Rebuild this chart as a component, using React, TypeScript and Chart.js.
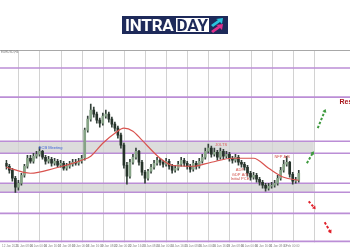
import React, { useEffect, useRef } from "react";
import { Chart, registerables } from "chart.js";
Chart.register(...registerables);

const opens = [
  1.0935, 1.092, 1.09, 1.086, 1.0815, 1.0835, 1.0875, 1.092, 1.096, 1.0945,
  1.097, 1.098, 1.0995, 1.0965, 1.0945, 1.0955, 1.0935, 1.0945, 1.0925, 1.0935,
  1.091, 1.092, 1.093, 1.094, 1.0935, 1.0945, 1.096, 1.11, 1.1155, 1.12,
  1.118, 1.115, 1.1135, 1.117, 1.118, 1.1155, 1.113, 1.111, 1.1075, 1.1025,
  1.0925, 1.087, 1.094, 1.0965, 1.0995, 1.094, 1.089, 1.086, 1.0895, 1.0915,
  1.0935, 1.095, 1.094, 1.093, 1.0945, 1.092, 1.09, 1.091, 1.093, 1.095,
  1.0935, 1.092, 1.0905, 1.0935, 1.092, 1.0945, 1.0965, 1.0995, 1.101, 1.098,
  1.099, 1.0965, 1.0995, 1.097, 1.098, 1.096, 1.095, 1.0965, 1.094, 1.093,
  1.0915, 1.0885, 1.0865, 1.0875, 1.0855, 1.084, 1.0825, 1.081, 1.082, 1.0825,
  1.0835, 1.086, 1.09, 1.093, 1.094, 1.088, 1.0845, 1.085,
];
const closes = [
  1.092, 1.09, 1.086, 1.0815, 1.0835, 1.0875, 1.092, 1.096, 1.0945, 1.097,
  1.098, 1.0995, 1.0965, 1.0945, 1.0955, 1.0935, 1.0945, 1.0925, 1.0935, 1.091,
  1.092, 1.093, 1.094, 1.0935, 1.0945, 1.096, 1.11, 1.1155, 1.12, 1.118,
  1.115, 1.1135, 1.117, 1.118, 1.1155, 1.113, 1.111, 1.1075, 1.1025, 1.0925,
  1.087, 1.094, 1.0965, 1.0995, 1.094, 1.089, 1.086, 1.0895, 1.0915, 1.0935,
  1.095, 1.094, 1.093, 1.0945, 1.092, 1.09, 1.091, 1.093, 1.095, 1.0935,
  1.092, 1.0905, 1.0935, 1.092, 1.0945, 1.0965, 1.0995, 1.101, 1.098, 1.099,
  1.0965, 1.0995, 1.097, 1.098, 1.096, 1.095, 1.0965, 1.094, 1.093, 1.0915,
  1.0885, 1.0865, 1.0875, 1.0855, 1.084, 1.0825, 1.081, 1.082, 1.0825, 1.0835,
  1.086, 1.09, 1.093, 1.094, 1.088, 1.0845, 1.085, 1.0885,
];
const highs = [
  1.095, 1.093, 1.091, 1.087, 1.085, 1.0885, 1.093, 1.0975, 1.0975, 1.0985,
  1.0995, 1.1015, 1.1, 1.0975, 1.097, 1.0965, 1.096, 1.0955, 1.095, 1.0945,
  1.0935, 1.0945, 1.0955, 1.0955, 1.096, 1.0975, 1.111, 1.117, 1.123, 1.1215,
  1.119, 1.116, 1.1185, 1.12, 1.119, 1.1165, 1.114, 1.112, 1.1085, 1.1035,
  1.094, 1.0955, 1.098, 1.101, 1.1, 1.095, 1.09, 1.0905, 1.093, 1.095,
  1.0965, 1.096, 1.095, 1.096, 1.0955, 1.093, 1.0925, 1.0945, 1.0965, 1.096,
  1.0945, 1.093, 1.095, 1.0945, 1.096, 1.098, 1.101, 1.103, 1.102, 1.101,
  1.1, 1.101, 1.1005, 1.0995, 1.099, 1.097, 1.098, 1.0975, 1.095, 1.094,
  1.0925, 1.0895, 1.089, 1.0885, 1.0865, 1.085, 1.0835, 1.0835, 1.084, 1.085,
  1.0875, 1.0915, 1.095, 1.097, 1.0945, 1.089, 1.0865, 1.09,
];
const lows = [
  1.0905, 1.0885, 1.0845, 1.079, 1.08, 1.0825, 1.0865, 1.091, 1.0935, 1.0935,
  1.096, 1.097, 1.0955, 1.093, 1.0935, 1.092, 1.0925, 1.0915, 1.0915, 1.09,
  1.09, 1.091, 1.092, 1.0925, 1.0925, 1.0935, 1.095, 1.109, 1.1145, 1.1165,
  1.1135, 1.1115, 1.1125, 1.116, 1.114, 1.1115, 1.1095, 1.106, 1.101, 1.091,
  1.083, 1.086, 1.093, 1.0955, 1.0925, 1.0875, 1.0835, 1.085, 1.0885, 1.0905,
  1.0925, 1.0925, 1.0915, 1.092, 1.0905, 1.0885, 1.089, 1.09, 1.092, 1.092,
  1.0905, 1.089, 1.0895, 1.0905, 1.091, 1.0935, 1.0955, 1.0985, 1.0965, 1.097,
  1.095, 1.0955, 1.0955, 1.096, 1.0945, 1.0935, 1.094, 1.0925, 1.0915, 1.09,
  1.087, 1.085, 1.0855, 1.084, 1.0825, 1.081, 1.0795, 1.08, 1.081, 1.0815,
  1.0825, 1.085, 1.089, 1.092, 1.0865, 1.083, 1.0835, 1.084,
];

const maIndex = [0, 8, 16, 25, 28, 32, 36, 39, 42, 45, 51, 55, 62, 68, 75, 82, 87, 92, 97];
const maValues = [
  1.0915, 1.0885, 1.091, 1.095, 1.097, 1.1035, 1.1085, 1.111, 1.1095, 1.105,
  1.096, 1.0925, 1.092, 1.094, 1.096, 1.096, 1.091, 1.0865, 1.085,
];

const levels = [1.141, 1.1265, 1.1045, 1.0985, 1.0835, 1.079, 1.0685, 1.0545];
const bandLows = [1.0985, 1.079];
const bandHighs = [1.1045, 1.0835];
const bandEndIndex = 102;

const gridIndex = [4, 11, 18, 25, 32, 39, 46, 53, 60, 67, 74, 81, 88, 95, 102];
const labelIndex = [1.3, 6, 10.6, 15.3, 20, 24.6, 29.3, 34, 38.6, 43.3, 48, 52.6, 57.3, 62, 66.6, 71.3, 76, 80.6, 85.3, 90, 94.6];
const dateLabels = [
  "12 Jan 2024", "15 Jan 08:00", "16 Jan 00:00", "16 Jan 16:00", "17 Jan 08:00",
  "18 Jan 00:00", "18 Jan 16:00", "19 Jan 08:00", "22 Jan 00:00", "22 Jan 16:00",
  "23 Jan 08:00", "24 Jan 00:00", "24 Jan 16:00", "25 Jan 08:00", "26 Jan 00:00",
  "26 Jan 16:00", "29 Jan 08:00", "30 Jan 00:00", "30 Jan 16:00", "31 Jan 08:00",
  "1 Feb 00:00",
];

const noteTexts = ["ECB Meeting", "JOLTS", "ADP", "GDP A/S", "Initial PCE", "NFP A/S", "Resistance"];
const noteIndex = [14.7, 71.2, 77.5, 77.5, 77.5, 91.5, 110.5];
const notePrice = [1.1005, 1.102, 1.0895, 1.0872, 1.085, 1.096, 1.123];
const noteColors = ["#3d63d8", "#d85a5a", "#d0504a", "#d0504a", "#d0504a", "#d0504a", "#a8161c"];

const arrowFromIndex = [99.7, 103.3, 100.3, 105.6];
const arrowFromPrice = [1.0935, 1.111, 1.0745, 1.064];
const arrowToIndex = [102, 105.9, 102.6, 107.8];
const arrowToPrice = [1.0995, 1.1205, 1.0705, 1.0585];
const arrowColors = ["#3e9a3e", "#3e9a3e", "#e0202a", "#e0202a"];

const overlayPlugin = {
  id: "overlay",
  beforeDatasetsDraw(chart: any) {
    const { ctx, chartArea, scales } = chart;
    const xs = scales.x;
    const ys = scales.y;
    ctx.save();
    ctx.fillStyle = "#dcdcdc";
    const xEnd = xs.getPixelForValue(bandEndIndex);
    for (let k = 0; k < bandLows.length; k++) {
      const yTop = ys.getPixelForValue(bandHighs[k]);
      const yBot = ys.getPixelForValue(bandLows[k]);
      ctx.fillRect(0, yTop, xEnd, yBot - yTop);
    }
    ctx.strokeStyle = "#d2d2d2";
    ctx.lineWidth = 1;
    for (const g of gridIndex) {
      const x = Math.round(xs.getPixelForValue(g)) + 0.5;
      ctx.beginPath();
      ctx.moveTo(x, chartArea.top);
      ctx.lineTo(x, chartArea.bottom);
      ctx.stroke();
    }
    ctx.strokeStyle = "#bb8ed6";
    ctx.lineWidth = 1.6;
    for (const lv of levels) {
      const y = ys.getPixelForValue(lv);
      ctx.beginPath();
      ctx.moveTo(0, y);
      ctx.lineTo(chart.width, y);
      ctx.stroke();
    }
    ctx.strokeStyle = "#a8a8a8";
    ctx.lineWidth = 1;
    ctx.beginPath();
    ctx.moveTo(0, chartArea.top + 0.5);
    ctx.lineTo(chart.width, chartArea.top + 0.5);
    ctx.stroke();
    ctx.fillStyle = "#777";
    ctx.font = "3px 'Liberation Sans'";
    ctx.textBaseline = "top";
    ctx.fillText("EURUSD,H4", 1, chartArea.top + 1);
    ctx.restore();
  },
  afterDatasetsDraw(chart: any) {
    const { ctx, scales } = chart;
    const xs = scales.x;
    const ys = scales.y;
    ctx.save();
    ctx.textBaseline = "alphabetic";
    for (let k = 0; k < noteTexts.length; k++) {
      const bold = noteTexts[k] === "Resistance";
      ctx.font = bold ? "bold 7px 'Liberation Sans'" : "4px 'Liberation Sans'";
      ctx.textAlign = bold ? "left" : "center";
      ctx.fillStyle = noteColors[k];
      ctx.fillText(noteTexts[k], xs.getPixelForValue(noteIndex[k]), ys.getPixelForValue(notePrice[k]));
    }
    for (let k = 0; k < arrowColors.length; k++) {
      const x0 = xs.getPixelForValue(arrowFromIndex[k]);
      const y0 = ys.getPixelForValue(arrowFromPrice[k]);
      const x1 = xs.getPixelForValue(arrowToIndex[k]);
      const y1 = ys.getPixelForValue(arrowToPrice[k]);
      const ang = Math.atan2(y1 - y0, x1 - x0);
      ctx.strokeStyle = arrowColors[k];
      ctx.fillStyle = arrowColors[k];
      ctx.lineWidth = 2;
      ctx.setLineDash([2.5, 1.8]);
      ctx.beginPath();
      ctx.moveTo(x0, y0);
      ctx.lineTo(x1 - Math.cos(ang) * 2, y1 - Math.sin(ang) * 2);
      ctx.stroke();
      ctx.setLineDash([]);
      const s = 3.8;
      ctx.beginPath();
      ctx.moveTo(x1, y1);
      ctx.lineTo(x1 - s * Math.cos(ang - 0.6), y1 - s * Math.sin(ang - 0.6));
      ctx.lineTo(x1 - s * Math.cos(ang + 0.6), y1 - s * Math.sin(ang + 0.6));
      ctx.closePath();
      ctx.fill();
    }
    ctx.restore();
  },
};

export default function App() {
  const ref = useRef<HTMLCanvasElement>(null);
  useEffect(() => {
    document.body.style.margin = "0";
    if (!ref.current) return;
    const idx = closes.map((_, i) => i);
    const chart = new Chart(ref.current, {
      type: "bar",
      data: {
        datasets: [
          {
            type: "line",
            label: "MA",
            data: maIndex.map((x, k) => ({ x, y: maValues[k] })),
            borderColor: "#d9534f",
            borderWidth: 1.2,
            pointRadius: 0,
            cubicInterpolationMode: "monotone",
            order: 0,
          } as any,
          {
            label: "bodies",
            data: idx.map((i) => ({ x: i, y: [opens[i], closes[i]] })),
            backgroundColor: idx.map((i) => (closes[i] >= opens[i] ? "#86a386" : "#26332a")),
            barThickness: 2,
            grouped: false,
            order: 1,
          } as any,
          {
            label: "wicks",
            data: idx.map((i) => ({ x: i, y: [lows[i], highs[i]] })),
            backgroundColor: "#34423a",
            barThickness: 1,
            grouped: false,
            order: 2,
          } as any,
        ],
      },
      options: {
        animation: false,
        responsive: false,
        layout: { padding: { top: 50, left: 0, right: 0, bottom: 0 } },
        plugins: { legend: { display: false }, tooltip: { enabled: false } },
        scales: {
          x: {
            type: "linear",
            min: -0.33,
            max: 114,
            offset: false,
            grid: { display: false, drawTicks: false },
            border: { display: false },
            afterBuildTicks: (axis: any) => {
              axis.ticks = labelIndex.map((v) => ({ value: v }));
            },
            ticks: {
              autoSkip: false,
              maxRotation: 0,
              minRotation: 0,
              padding: 2,
              color: "#888",
              font: { size: 3, family: "'Liberation Sans'" },
              callback: (_v: any, i: number) => dateLabels[i] ?? "",
            },
          },
          y: { type: "linear", min: 1.054, max: 1.15, display: false },
        },
      } as any,
      plugins: [overlayPlugin],
    });
    return () => chart.destroy();
  }, []);

  return (
    <div style={{ position: "relative", width: 350, height: 250, background: "#fff" }}>
      <canvas ref={ref} width={350} height={250} style={{ display: "block" }} />
      <div
        style={{
          position: "absolute",
          left: 122,
          top: 16,
          width: 106,
          height: 18,
          background: "#1e2a5a",
          display: "flex",
          alignItems: "center",
          boxSizing: "border-box",
          paddingLeft: 3,
        }}
      >
        <span style={{ color: "#fff", font: "bold 17px Roboto", lineHeight: "18px", letterSpacing: -0.2 }}>INTRA</span>
        <span
          style={{
            marginLeft: 2,
            background: "#fff",
            color: "#1e2a5a",
            font: "bold 17px Roboto",
            height: 14,
            lineHeight: "15px",
            padding: "0 1px",
            letterSpacing: -0.2,
          }}
        >
          DAY
        </span>
        <svg width="14" height="16" viewBox="0 0 14 16" style={{ marginLeft: 1 }}>
          <polygon points="1,8 8,3 6,2 13,1 12,7 10,5 3,10" fill="#27c3dc" />
          <polygon points="1,14 8,9 6,8 13,7 12,13 10,11 3,16" fill="#e0308c" />
        </svg>
      </div>
    </div>
  );
}
